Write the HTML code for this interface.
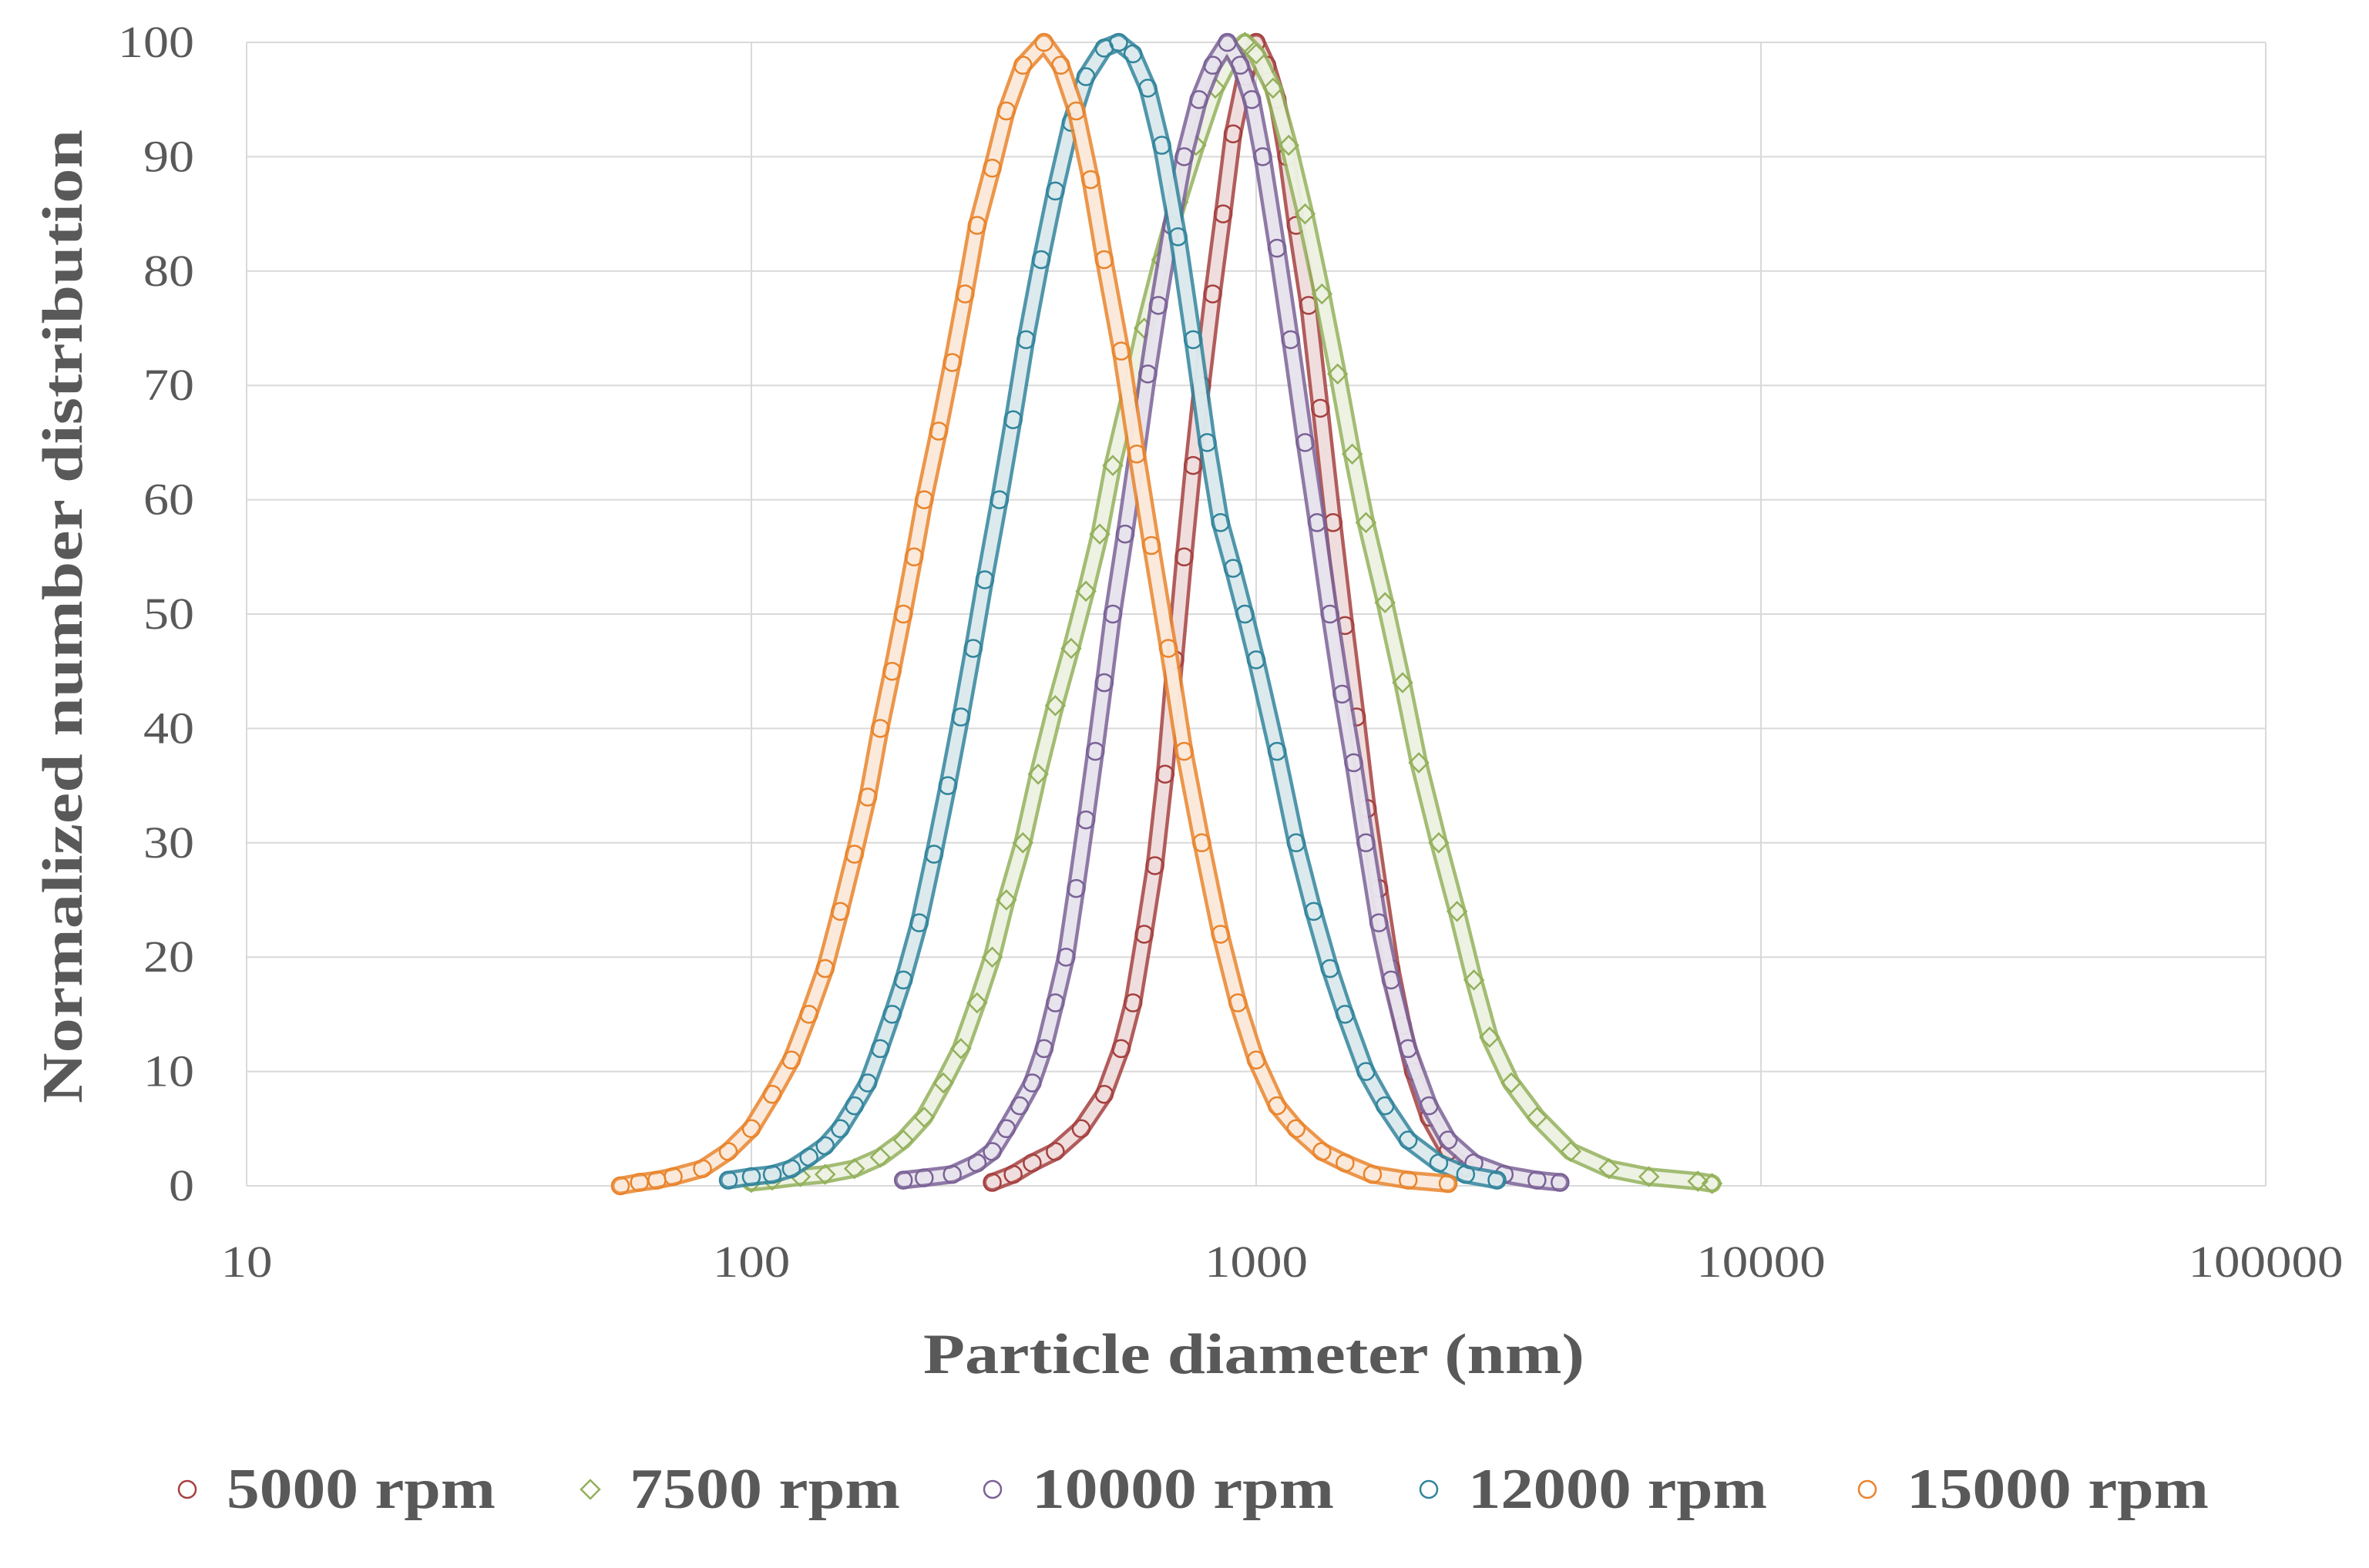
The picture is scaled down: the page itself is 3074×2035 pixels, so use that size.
<!DOCTYPE html>
<html><head><meta charset="utf-8"><style>
body{margin:0;background:#fff}
svg{display:block}
text{font-family:"Liberation Serif",serif;fill:#595959}
</style></head><body>
<svg id="chart" width="3074" height="2035" viewBox="0 0 3074 2035">
<g id="grid"></g>
<g id="ticks"></g>
<g id="marks"></g>
<text x="1627" y="1782" text-anchor="middle" font-size="74" font-weight="bold" textLength="858" lengthAdjust="spacingAndGlyphs">Particle diameter (nm)</text>
<text transform="translate(106,800) rotate(-90)" text-anchor="middle" font-size="74" font-weight="bold" textLength="1264" lengthAdjust="spacingAndGlyphs">Normalized number distribution</text>
<g id="legend"></g>
</svg>
<script>
const xTicks=[10,100,1000,10000,100000];
const xTickLabels=["10","100","1000","10000","100000"];
const yTicks=[0,10,20,30,40,50,60,70,80,90,100];
const seriesNames=["5000 rpm","7500 rpm","10000 rpm","12000 rpm","15000 rpm"];
const x5000=[300,330,360,400,450,500,540,570,600,630,660,690,720,750,780,820,860,900,950,1000,1050,1100,1150,1200,1270,1340,1420,1500,1580,1660,1750,1850,1950,2050,2200,2400,2600];
const y5000=[0.3,1,2,3,5,8,12,16,22,28,36,46,55,63,70,78,85,92,97,100,98,95,90,84,77,68,58,49,41,33,26,19,14,10,6,3,1.5];
const x7500=[100,110,125,140,160,180,200,220,240,260,280,300,320,345,370,400,430,460,490,520,560,600,650,700,760,830,900,950,1000,1080,1160,1250,1350,1450,1550,1650,1800,1950,2100,2300,2500,2700,2900,3200,3600,4200,5000,6000,7500,8000];
const y7500=[0.3,0.5,0.8,1,1.5,2.5,4,6,9,12,16,20,25,30,36,42,47,52,57,63,69,75,81,86,91,96,99,100,99,96,91,85,78,71,64,58,51,44,37,30,24,18,13,9,6,3,1.5,0.8,0.4,0.2];
const x10000=[200,220,250,280,300,320,340,360,380,400,420,440,460,480,500,520,550,580,610,640,680,720,770,820,877,930,980,1030,1100,1170,1250,1320,1400,1480,1560,1650,1750,1850,2000,2200,2400,2700,3100,3600,4000];
const y10000=[0.5,0.7,1,2,3,5,7,9,12,16,20,26,32,38,44,50,57,64,71,77,84,90,95,98,100,98,95,90,82,74,65,58,50,43,37,30,23,18,12,7,4,2,1,0.5,0.3];
const x12000=[90,100,110,120,130,140,150,160,170,180,190,200,215,230,245,260,275,290,310,330,350,375,400,430,460,500,534,570,610,650,700,750,800,850,900,950,1000,1100,1200,1300,1400,1500,1650,1800,2000,2300,2600,3000];
const y12000=[0.5,0.8,1,1.5,2.5,3.5,5,7,9,12,15,18,23,29,35,41,47,53,60,67,74,81,87,93,97,99.5,100,99,96,91,83,74,65,58,54,50,46,38,30,24,19,15,10,7,4,2,1,0.5];
const x15000=[55,60,65,70,80,90,100,110,120,130,140,150,160,170,180,190,200,210,220,235,250,265,280,300,320,345,380,410,440,470,500,540,580,620,670,720,780,850,920,1000,1100,1200,1350,1500,1700,2000,2400];
const y15000=[0,0.3,0.5,0.8,1.5,3,5,8,11,15,19,24,29,34,40,45,50,55,60,66,72,78,84,89,94,98,100,98,94,88,81,73,64,56,47,38,30,22,16,11,7,5,3,2,1,0.5,0.2];

const L=320,R=2940,T=55,B=1539;
const NS="http://www.w3.org/2000/svg";
function xs(v){return L+(Math.log10(v)-1)/4*(R-L);}
function ys(v){return B-v/100*(B-T);}
function mk(tag,attrs,parent){const e=document.createElementNS(NS,tag);for(const k in attrs)e.setAttribute(k,attrs[k]);parent.appendChild(e);return e;}
const grid=document.getElementById('grid'),ticks=document.getElementById('ticks'),marks=document.getElementById('marks'),legend=document.getElementById('legend');
yTicks.forEach(t=>{
  const l=mk('line',{x1:L,x2:R,y1:ys(t),y2:ys(t),stroke:'#D9D9D9','stroke-width':2},grid);
  
  
  const s=String(t);
  const tx=mk('text',{x:252,y:ys(t)+19,'text-anchor':'end','font-size':58,textLength:33*s.length,lengthAdjust:'spacingAndGlyphs'},ticks);
  tx.textContent=s;
  
  
});
xTicks.forEach((t,i)=>{
  const l=mk('line',{x1:xs(t),x2:xs(t),y1:T,y2:B,stroke:'#D9D9D9','stroke-width':2},grid);
  
  
  const s=xTickLabels[i];
  const tx=mk('text',{x:xs(t),y:1657,'text-anchor':'middle','font-size':58,textLength:33.5*s.length,lengthAdjust:'spacingAndGlyphs'},ticks);
  tx.textContent=s;
  
  
});
const colors=['#A5403F','#93B05A','#7A6196','#31849B','#E9842C'];
const shapes=['c','d','c','c','c'];
const xsData=[x5000,x7500,x10000,x12000,x15000];
const ysData=[y5000,y7500,y10000,y12000,y15000];
function marker(shape,cx,cy,col,parent){
  if(shape==='c') return mk('circle',{cx:cx,cy:cy,r:11,fill:'none',stroke:col,'stroke-width':2.5},parent);
  return mk('polygon',{points:`${cx},${cy-12} ${cx+12},${cy} ${cx},${cy+12} ${cx-12},${cy}`,fill:'none',stroke:col,'stroke-width':2.5},parent);
}
xsData.forEach((xa,s)=>{
  const g=mk('g',{},marks);
  
  
  const pts=xa.map((xv,i)=>xs(xv)+','+ys(ysData[s][i])).join(' ');
  const band=mk('polyline',{points:pts,fill:'none',stroke:colors[s],'stroke-width':24,'stroke-linejoin':'round','stroke-linecap':'round','stroke-opacity':0.85},g);
  
  
  const inner=mk('polyline',{points:pts,fill:'none',stroke:'#fff','stroke-width':15,'stroke-linejoin':'round','stroke-linecap':'round','stroke-opacity':0.8},g);
  
  
  xa.forEach((xv,i)=>{
    const m=marker(shapes[s],xs(xv),ys(ysData[s][i]),colors[s],g);
    
    
  });
});
const legX=[243,766,1288,1854,2423];
const legLen=[349,351,392,388,392];
seriesNames.forEach((n,i)=>{
  const g=mk('g',{},legend);
  
  
  marker(shapes[i],legX[i],1933,colors[i],g);
  const tx=mk('text',{x:legX[i]+51,y:1957,'font-size':74,'font-weight':'bold',textLength:legLen[i],lengthAdjust:'spacingAndGlyphs'},g);
  tx.textContent=n;
});
</script>
</body></html>
